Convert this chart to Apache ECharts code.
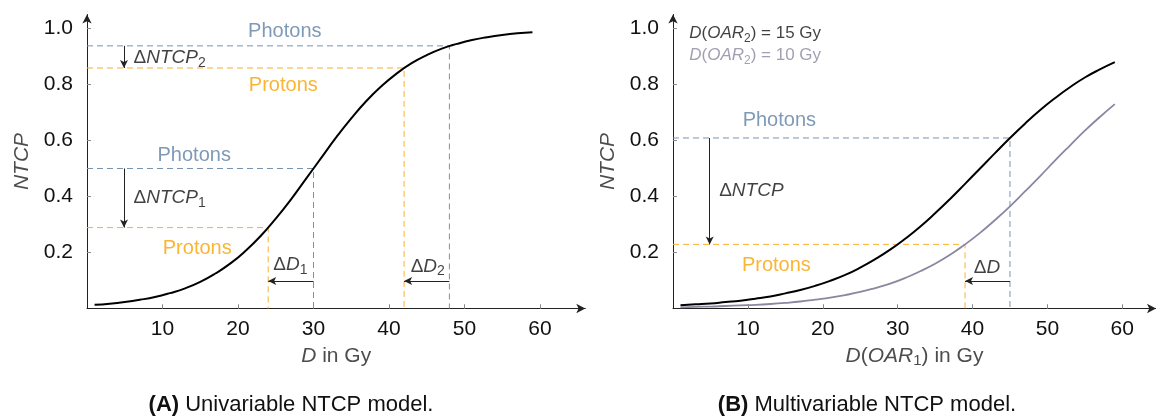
<!DOCTYPE html>
<html>
<head>
<meta charset="utf-8">
<script src="https://cdn.jsdelivr.net/npm/echarts@6/dist/echarts.min.js"></script>
<style>
  html, body { margin: 0; padding: 0; background: #fff; }
  #chart { width: 1156px; height: 416px; }
</style>
</head>
<body>
<div id="chart"></div>
<script>
// Dose grid (Gy) and NTCP values of the dose-response curves
const doseGrid = [1, 3, 5, 7, 9, 11, 13, 15, 17, 19, 21, 23, 25, 27, 29,
                  31, 33, 35, 37, 39, 41, 43, 45, 47, 49, 51, 53, 55, 57, 59];
// (A) univariable model
const ntcpUni = [0.013, 0.017, 0.023, 0.031, 0.041, 0.055, 0.072, 0.095, 0.125, 0.161,
                 0.206, 0.259, 0.321, 0.389, 0.463, 0.537, 0.611, 0.679, 0.741, 0.794,
                 0.839, 0.876, 0.905, 0.928, 0.945, 0.959, 0.969, 0.977, 0.983, 0.987];
// (B) multivariable model, D(OAR2) = 15 Gy
const ntcpOar2High = [0.012, 0.015, 0.018, 0.023, 0.028, 0.035, 0.043, 0.054, 0.066, 0.081,
                      0.099, 0.120, 0.146, 0.176, 0.210, 0.249, 0.292, 0.340, 0.391, 0.445,
                      0.500, 0.555, 0.609, 0.660, 0.708, 0.751, 0.790, 0.825, 0.854, 0.880];
// (B) multivariable model, D(OAR2) = 10 Gy
const ntcpOar2Low = [0.004, 0.006, 0.007, 0.009, 0.011, 0.013, 0.016, 0.020, 0.025, 0.032,
                     0.039, 0.048, 0.059, 0.073, 0.089, 0.109, 0.133, 0.160, 0.192, 0.229,
                     0.270, 0.316, 0.365, 0.418, 0.472, 0.528, 0.582, 0.635, 0.684, 0.730];

// Tick values
const doseTicks = [10, 20, 30, 40, 50, 60];
const ntcpTicks = [0.2, 0.4, 0.6, 0.8, 1.0];

// Operating points [dose, NTCP] for photon and proton plans
const uniPhoton = [[30, 0.5], [48, 0.938]];
const uniProton = [[24, 0.289], [42, 0.859]];
const multiPhoton = [[45, 0.609]];
const multiProton = [[39, 0.229]];

// ---------------------------------------------------------------
const FONT = "'Liberation Sans', Arial, Helvetica, sans-serif";
const INK = '#111';
const AXIS_GRAY = '#4d4d4d';
const PHOTON_TEXT = '#5e81a4';
const PHOTON_LINE = '#7893ae';
const PROTON_TEXT = '#f8a300';
const PROTON_LINE = '#fbb02e';
const LOW_CURVE = '#8a87a0';

const PX_PER_GY = 7.55;
const PX_PER_NTCP = 280;
const Y_MAX = 1.05;
const LEFT_MAX = 66;
const RIGHT_MAX = 64.5;

function richStyles(color, size) {
  return {
    rm: { fontFamily: FONT, fontSize: size, color: color, lineHeight: 24 },
    it: { fontFamily: FONT, fontSize: size, fontStyle: 'italic', color: color, lineHeight: 24 },
    sub: { fontFamily: FONT, fontSize: Math.round(size * 0.72), color: color, lineHeight: 14, verticalAlign: 'bottom' }
  };
}

function curve(xi, values, color, width) {
  return {
    type: 'line', xAxisIndex: xi, yAxisIndex: xi, smooth: true, symbol: 'none',
    silent: true, z: 4,
    lineStyle: { color: color, width: width },
    data: doseGrid.map((d, i) => [d, values[i]])
  };
}

function guides(xi, points, color) {
  return points.map(([d, v]) => ({
    type: 'line', xAxisIndex: xi, yAxisIndex: xi, symbol: 'none', silent: true, z: 2,
    lineStyle: { color: color, width: 1, type: [6, 4] },
    data: [[0, v], [d, v], [d, 0]]
  }));
}

// Arrows: vertical NTCP difference and horizontal dose difference
const ARROW_X = 4.9;
const ARROW_Y = 0.098;
function arrows(xi, photon, proton) {
  const data = [];
  photon.forEach((p, i) => {
    const q = proton[i];
    data.push([{ coord: [ARROW_X, p[1]] }, { coord: [ARROW_X, q[1]] }]);
    data.push([{ coord: [p[0], ARROW_Y] }, { coord: [q[0], ARROW_Y] }]);
  });
  return {
    type: 'line', xAxisIndex: xi, yAxisIndex: xi, data: [], silent: true,
    markLine: {
      silent: true, animation: false,
      symbol: ['none', 'arrow'], symbolSize: [6, 8],
      label: { show: false },
      lineStyle: { color: '#222', width: 1, type: 'solid' },
      emphasis: { disabled: true },
      data: data
    }
  };
}

function notes(xi, list) {
  return {
    type: 'scatter', xAxisIndex: xi, yAxisIndex: xi, symbolSize: 1, silent: true, z: 6,
    itemStyle: { color: 'transparent' },
    data: list.map(n => ({
      value: n.at,
      label: {
        show: true,
        position: n.left ? 'right' : 'inside',
        distance: 0,
        formatter: n.text,
        color: n.color,
        textBorderWidth: 0,
        rich: richStyles(n.color, n.size || 20)
      }
    }))
  };
}

const leftNotes = [
  { at: [26.2, 0.988], text: '{rm|Photons}', color: PHOTON_TEXT },
  { at: [26.0, 0.798], text: '{rm|Protons}', color: PROTON_TEXT },
  { at: [14.2, 0.545], text: '{rm|Photons}', color: PHOTON_TEXT },
  { at: [14.6, 0.216], text: '{rm|Protons}', color: PROTON_TEXT },
  { at: [6.1, 0.895], text: '{rm|Δ}{it|NTCP}{sub|2}', color: INK, left: true, size: 19 },
  { at: [6.1, 0.394], text: '{rm|Δ}{it|NTCP}{sub|1}', color: INK, left: true, size: 19 },
  { at: [24.6, 0.155], text: '{rm|Δ}{it|D}{sub|1}', color: INK, left: true, size: 19 },
  { at: [42.8, 0.150], text: '{rm|Δ}{it|D}{sub|2}', color: INK, left: true, size: 19 }
];
const rightNotes = [
  { at: [2.1, 0.984], text: '{it|D}{rm|(}{it|OAR}{sub|2}{rm|) = 15 Gy}', color: INK, left: true, size: 17 },
  { at: [2.1, 0.905], text: '{it|D}{rm|(}{it|OAR}{sub|2}{rm|) = 10 Gy}', color: LOW_CURVE, left: true, size: 17 },
  { at: [14.2, 0.67], text: '{rm|Photons}', color: PHOTON_TEXT },
  { at: [13.8, 0.155], text: '{rm|Protons}', color: PROTON_TEXT },
  { at: [6.1, 0.42], text: '{rm|Δ}{it|NTCP}', color: INK, left: true, size: 19 },
  { at: [40.1, 0.145], text: '{rm|Δ}{it|D}', color: INK, left: true, size: 19 }
];

function xMain(grid, max, name) {
  return {
    type: 'value', gridIndex: grid, min: 0, max: max,
    axisLine: { show: true, onZero: false, symbol: ['none', 'arrow'], symbolSize: [7, 9],
                lineStyle: { color: '#222', width: 1 } },
    axisTick: { show: true, inside: true, length: 4, customValues: doseTicks,
                lineStyle: { color: '#888', width: 1 } },
    axisLabel: { customValues: doseTicks, margin: 10, fontSize: 21, color: INK, fontFamily: FONT },
    splitLine: { show: false },
    name: name, nameLocation: 'middle', nameGap: 36,
    nameTextStyle: { rich: richStyles(AXIS_GRAY, 21) }
  };
}
function xTicks(grid, max) {
  return {
    type: 'value', gridIndex: grid, min: 0, max: max,
    axisLine: { show: false },
    axisTick: { show: true, inside: false, length: 4, customValues: doseTicks,
                lineStyle: { color: '#888', width: 1 } },
    axisLabel: { show: false }, splitLine: { show: false }
  };
}
function yMain(grid) {
  return {
    type: 'value', gridIndex: grid, min: 0, max: Y_MAX,
    axisLine: { show: true, onZero: false, symbol: ['none', 'arrow'], symbolSize: [7, 9],
                lineStyle: { color: '#222', width: 1 } },
    axisTick: { show: true, inside: true, length: 4, customValues: ntcpTicks,
                lineStyle: { color: '#888', width: 1 } },
    axisLabel: { customValues: ntcpTicks, margin: 14, fontSize: 21, color: INK, fontFamily: FONT,
                 formatter: v => v.toFixed(1) },
    splitLine: { show: false },
    name: '{it|NTCP}', nameLocation: 'middle', nameGap: 53, nameRotate: 90,
    nameTextStyle: { rich: richStyles(AXIS_GRAY, 21) }
  };
}
function yTicks(grid) {
  return {
    type: 'value', gridIndex: grid, min: 0, max: Y_MAX,
    axisLine: { show: false },
    axisTick: { show: true, inside: false, length: 4, customValues: ntcpTicks,
                lineStyle: { color: '#888', width: 1 } },
    axisLabel: { show: false }, splitLine: { show: false }
  };
}

const gridTop = 308.5 - Y_MAX * PX_PER_NTCP;
const gridHeight = Y_MAX * PX_PER_NTCP;

const captionRich = { b: { fontFamily: FONT, fontSize: 22, fontWeight: 'bold', fill: INK } };

const option = {
  animation: false,
  backgroundColor: '#fff',
  grid: [
    { left: 87, top: gridTop, width: LEFT_MAX * PX_PER_GY, height: gridHeight },
    { left: 673, top: gridTop, width: RIGHT_MAX * PX_PER_GY, height: gridHeight }
  ],
  xAxis: [
    xMain(0, LEFT_MAX, '{it|D}{rm| in Gy}'),
    xMain(1, RIGHT_MAX, '{it|D}{rm|(}{it|OAR}{sub|1}{rm|) in Gy}'),
    xTicks(0, LEFT_MAX),
    xTicks(1, RIGHT_MAX)
  ],
  yAxis: [yMain(0), yMain(1), yTicks(0), yTicks(1)],
  series: [
    ...guides(0, uniPhoton, PHOTON_LINE),
    ...guides(0, uniProton, PROTON_LINE),
    ...guides(1, multiPhoton, PHOTON_LINE),
    ...guides(1, multiProton, PROTON_LINE),
    curve(0, ntcpUni, '#000', 2),
    curve(1, ntcpOar2Low, LOW_CURVE, 1.8),
    curve(1, ntcpOar2High, '#000', 2),
    arrows(0, uniPhoton, uniProton),
    arrows(1, multiPhoton, multiProton),
    notes(0, leftNotes),
    notes(1, rightNotes)
  ],
  graphic: [
    {
      type: 'text', x: 291, y: 405, silent: true,
      style: {
        text: '{b|(A)} Univariable NTCP model.', align: 'center', verticalAlign: 'middle',
        fontFamily: FONT, fontSize: 22, fill: INK, rich: captionRich
      }
    },
    {
      type: 'text', x: 867, y: 405, silent: true,
      style: {
        text: '{b|(B)} Multivariable NTCP model.', align: 'center', verticalAlign: 'middle',
        fontFamily: FONT, fontSize: 22, fill: INK, rich: captionRich
      }
    }
  ]
};

const chart = echarts.init(document.getElementById('chart'), null, { renderer: 'canvas' });
chart.setOption(option);
</script>
</body>
</html>
